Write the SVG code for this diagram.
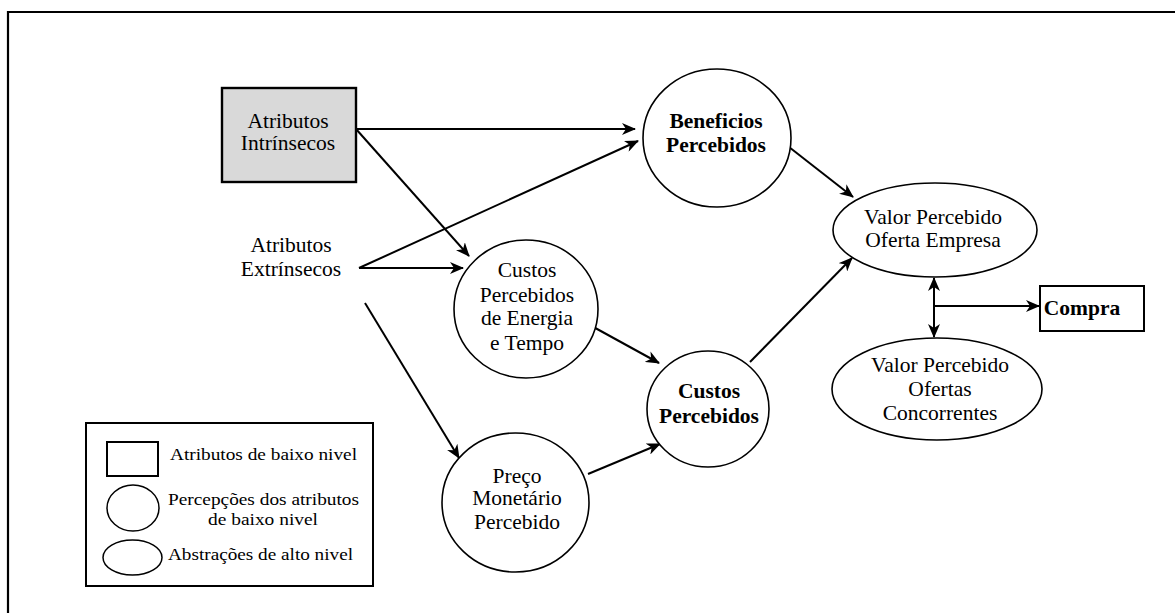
<svg xmlns="http://www.w3.org/2000/svg" width="1175" height="613" viewBox="0 0 1175 613">
<defs>
<marker id="arr" viewBox="0 0 14 12" refX="13" refY="6" markerWidth="14" markerHeight="12" markerUnits="userSpaceOnUse" orient="auto-start-reverse">
<path d="M0,0 L14,6 L0,12 L4,6 z" fill="#000"/>
</marker>
</defs>
<style>
text{font-family:"Liberation Serif","Times New Roman",serif;font-size:21.5px;fill:#000;text-anchor:middle}
.b{font-weight:bold}
.lg{font-size:16px;text-anchor:start}
.node{fill:#fff;stroke:#000;stroke-width:1.6}
.conn line,.conn path{stroke:#000;stroke-width:2;fill:none}
.a{marker-end:url(#arr)}
</style>
<rect width="1175" height="613" fill="#fff"/>
<path d="M8,613 V12 H1175" fill="none" stroke="#000" stroke-width="2.2"/>

<g class="conn">
<line class="a" x1="356" y1="129" x2="635" y2="129"/>
<line class="a" x1="356" y1="129" x2="469" y2="256"/>
<line class="a" x1="359" y1="268" x2="638" y2="141"/>
<line class="a" x1="359" y1="268" x2="463" y2="268"/>
<line class="a" x1="365" y1="303" x2="459" y2="458"/>
<line class="a" x1="789" y1="147" x2="853" y2="197"/>
<line class="a" x1="588" y1="324" x2="659" y2="363"/>
<line class="a" x1="588" y1="474" x2="660" y2="444"/>
<line class="a" x1="750" y1="362" x2="852" y2="258"/>
<line x1="934" y1="278" x2="934" y2="337" marker-start="url(#arr)" marker-end="url(#arr)"/>
<line class="a" x1="934" y1="306" x2="1039" y2="306"/>
</g>

<g id="atributos-intrinsecos">
<rect x="222" y="88" width="134" height="94" fill="#d9d9d9" stroke="#000" stroke-width="2.4"/>
<text x="288" y="128">Atributos</text>
<text x="288" y="150">Intrínsecos</text>
</g>

<g id="atributos-extrinsecos">
<text x="291" y="252">Atributos</text>
<text x="291" y="276">Extrínsecos</text>
</g>

<g id="beneficios-percebidos">
<ellipse class="node" cx="717" cy="138" rx="74" ry="69"/>
<text class="b" x="716" y="128">Beneficios</text>
<text class="b" x="716" y="152">Percebidos</text>
</g>

<g id="custos-energia-tempo">
<ellipse class="node" cx="526" cy="309" rx="72" ry="69"/>
<text x="527" y="277">Custos</text>
<text x="527" y="302">Percebidos</text>
<text x="527" y="325">de Energia</text>
<text x="527" y="350">e Tempo</text>
</g>

<g id="preco-monetario">
<ellipse class="node" cx="515.5" cy="502.5" rx="73.5" ry="69.5"/>
<text x="517" y="483">Preço</text>
<text x="517" y="505">Monetário</text>
<text x="517" y="529">Percebido</text>
</g>

<g id="custos-percebidos">
<ellipse class="node" cx="708" cy="409" rx="61" ry="58"/>
<text class="b" x="709" y="398">Custos</text>
<text class="b" x="709" y="423">Percebidos</text>
</g>

<g id="valor-oferta-empresa">
<ellipse class="node" cx="935" cy="230" rx="102" ry="47"/>
<text x="933" y="224">Valor Percebido</text>
<text x="933" y="247">Oferta Empresa</text>
</g>

<g id="valor-ofertas-concorrentes">
<ellipse class="node" cx="937" cy="389" rx="105" ry="51"/>
<text x="940" y="372">Valor Percebido</text>
<text x="940" y="396">Ofertas</text>
<text x="940" y="420">Concorrentes</text>
</g>

<g id="compra">
<rect x="1040" y="286" width="104" height="45" fill="#fff" stroke="#000" stroke-width="2"/>
<text class="b" x="1082" y="315">Compra</text>
</g>

<g id="legenda">
<rect x="86" y="423" width="287" height="163" fill="#fff" stroke="#000" stroke-width="2"/>
<rect x="107" y="442" width="51" height="34" fill="#fff" stroke="#000" stroke-width="2"/>
<ellipse cx="133" cy="508" rx="26" ry="23" fill="none" stroke="#000" stroke-width="1.5"/>
<ellipse cx="132.5" cy="557.5" rx="29.5" ry="17.5" fill="none" stroke="#000" stroke-width="1.5"/>
<text class="lg" x="170" y="460" textLength="187" lengthAdjust="spacingAndGlyphs">Atributos de baixo nivel</text>
<text class="lg" x="168" y="505" textLength="191" lengthAdjust="spacingAndGlyphs">Percepções dos atributos</text>
<text class="lg" x="208" y="525" textLength="110" lengthAdjust="spacingAndGlyphs">de baixo nivel</text>
<text class="lg" x="168" y="560" textLength="185" lengthAdjust="spacingAndGlyphs">Abstrações de alto nivel</text>
</g>
</svg>
